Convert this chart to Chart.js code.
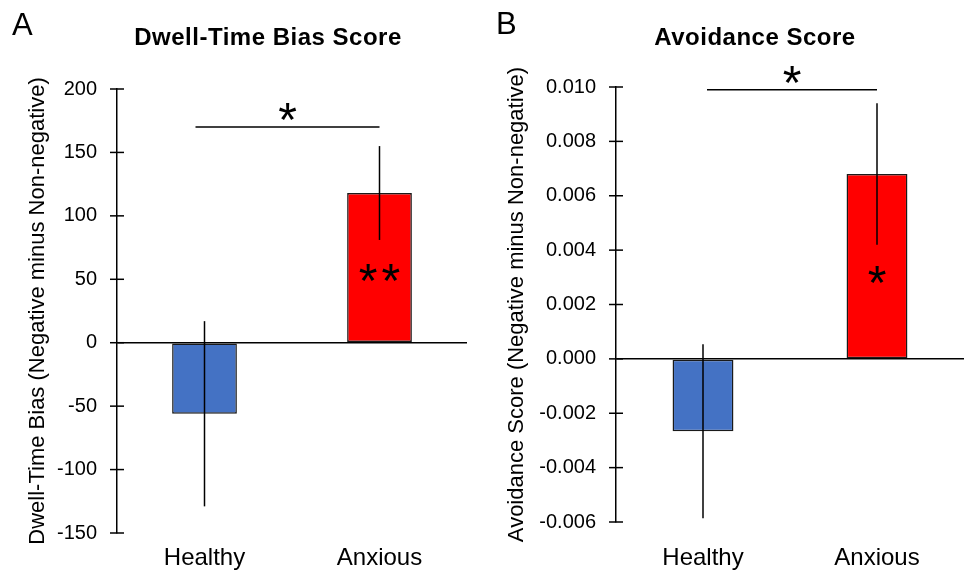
<!DOCTYPE html>
<html>
<head>
<meta charset="utf-8">
<script src="https://cdn.jsdelivr.net/npm/chart.js@4.4.1/dist/chart.umd.min.js"></script>
<style>
  body { margin: 0; background: #fff; font-family: 'Liberation Sans', Arial, sans-serif; }
  #wrap { position: relative; width: 965px; height: 570px; overflow: hidden; }
  canvas { position: absolute; top: 0; }
  .letter { position: absolute; font-size: 31px; line-height: 1; color: #000; }
  .title { position: absolute; width: 400px; text-align: center; font-size: 24px; letter-spacing: 0.5px; font-weight: bold; line-height: 1; color: #000; }
</style>
</head>
<body>
<div id="wrap">
  <canvas id="chartA" width="480" height="570" style="left:0"></canvas>
  <canvas id="chartB" width="485" height="570" style="left:480px"></canvas>
  <div class="letter" style="left:12px; top:9px">A</div>
  <div class="letter" style="left:496px; top:8px">B</div>
  <div class="title" style="left:68px; top:25px">Dwell-Time Bias Score</div>
  <div class="title" style="left:555px; top:25px">Avoidance Score</div>
</div>
<script>
const groups = ['Healthy', 'Anxious'];
const barColors = ['#4472C4', '#FF0000'];

const dwellMeans = [-56, 118];
const dwellErrors = [73, 37];
const dwellTicks = [-150, -100, -50, 0, 50, 100, 150, 200];

const avoidMeans = [-0.00266, 0.0068];
const avoidErrors = [0.0032, 0.0026];
const avoidTicks = [-0.006, -0.004, -0.002, 0.000, 0.002, 0.004, 0.006, 0.008, 0.010];

const FONT = "'Liberation Sans', Arial, sans-serif";

// error bars, cross ticks on the y axis, significance marks
const extras = {
  id: 'extras',
  afterDatasetsDraw(chart, args, opts) {
    const ctx = chart.ctx;
    const y = chart.scales.y;
    const meta = chart.getDatasetMeta(0);
    ctx.save();
    ctx.strokeStyle = '#000';
    ctx.lineWidth = 1.5;

    // error bars
    opts.errors.forEach((e, i) => {
      const m = chart.data.datasets[0].data[i];
      const x = meta.data[i].x;
      ctx.beginPath();
      ctx.moveTo(x, y.getPixelForValue(m + e));
      ctx.lineTo(x, y.getPixelForValue(m - e));
      ctx.stroke();
    });

    // tick marks crossing the axis
    const ax = chart.chartArea.left;
    y.ticks.forEach(t => {
      const py = y.getPixelForValue(t.value);
      ctx.beginPath();
      ctx.moveTo(ax - 7, py);
      ctx.lineTo(ax + 7, py);
      ctx.stroke();
    });

    // bracket between groups
    const by = y.getPixelForValue(opts.bracketAt);
    const x0 = meta.data[0].x - opts.bracketPad;
    const x1 = meta.data[1].x;
    ctx.beginPath();
    ctx.moveTo(x0, by);
    ctx.lineTo(x1, by);
    ctx.stroke();

    ctx.fillStyle = '#000';
    ctx.font = '48px ' + FONT;
    ctx.textAlign = 'center';
    ctx.textBaseline = 'alphabetic';
    ctx.fillText('*', (x0 + x1) / 2, by + 9);

    // stars inside the anxious bar
    const sy = y.getPixelForValue(opts.starAt);
    ctx.letterSpacing = opts.starGap + 'px';
    ctx.fillText(opts.stars, meta.data[1].x + opts.starGap / 2, sy + 24);
    ctx.restore();
  }
};

function makeChart(id, means, errors, ticks, opt) {
  return new Chart(document.getElementById(id), {
    type: 'bar',
    data: {
      labels: groups,
      datasets: [{
        data: means,
        backgroundColor: barColors,
        borderColor: '#1a1a1a',
        borderWidth: 1.5,
        borderSkipped: false,
        categoryPercentage: 1,
        barPercentage: opt.barPct
      }]
    },
    plugins: [extras],
    options: {
      responsive: false,
      animation: false,
      layout: { padding: opt.padding },
      plugins: {
        legend: { display: false },
        tooltip: { enabled: false },
        extras: opt.extras
      },
      scales: {
        x: {
          grid: { display: false },
          border: { display: false },
          ticks: { color: '#000', font: { family: FONT, size: 24 }, padding: opt.xPad },
          afterFit: s => { s.height = opt.xHeight; }
        },
        y: {
          min: ticks[0],
          max: ticks[ticks.length - 1],
          afterBuildTicks: s => { s.ticks = ticks.map(v => ({ value: v })); },
          ticks: {
            color: '#000',
            padding: 20,
            font: { family: FONT, size: 20 },
            callback: v => v.toFixed(opt.decimals)
          },
          grid: {
            drawTicks: false,
            lineWidth: 1.5,
            color: c => (c.tick && Math.abs(c.tick.value) < 1e-9) ? '#000' : 'rgba(0,0,0,0)'
          },
          border: { display: true, color: '#000', width: 1.5 },
          title: {
            display: true,
            text: opt.yTitle,
            color: '#000',
            font: { family: FONT, size: 22 },
            padding: { top: opt.titlePad, bottom: 0 }
          },
          afterFit: s => { s.width = opt.yWidth; }
        }
      }
    }
  });
}

makeChart('chartA', dwellMeans, dwellErrors, dwellTicks, {
  barPct: 0.37,
  padding: { left: 0, top: 89, right: 13, bottom: 0 },
  xHeight: 37, xPad: 3,
  yWidth: 117, titlePad: 25,
  decimals: 0,
  yTitle: 'Dwell-Time Bias (Negative minus Non-negative)',
  extras: { errors: dwellErrors, bracketAt: 170, bracketPad: 9, starAt: 55, stars: '**', starGap: 4 }
});

makeChart('chartB', avoidMeans, avoidErrors, avoidTicks, {
  barPct: 0.35,
  padding: { left: 0, top: 87, right: 1, bottom: 0 },
  xHeight: 48, xPad: 14,
  yWidth: 136, titlePad: 24,
  decimals: 3,
  yTitle: 'Avoidance Score (Negative minus Non-negative)',
  extras: { errors: avoidErrors, bracketAt: 0.0099, bracketPad: -4, starAt: 0.0031, stars: '*', starGap: 0 }
});
</script>
</body>
</html>
